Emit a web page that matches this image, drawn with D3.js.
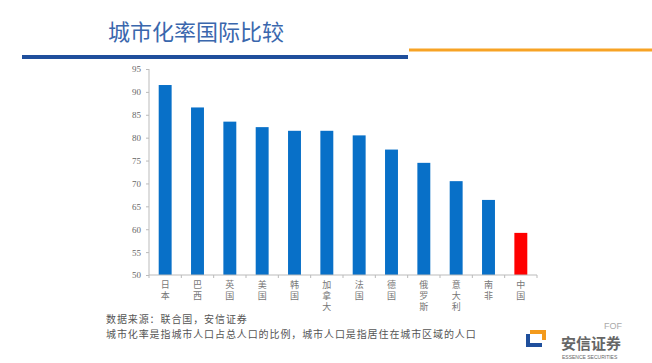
<!DOCTYPE html>
<html lang="zh">
<head>
<meta charset="UTF-8">
<title>城市化率国际比较</title>
<script src="https://d3js.org/d3.v7.min.js"></script>
<style>
  body { margin: 0; background: #fff; }
  svg { display: block; }
  .ytick text { font-family: "Liberation Serif", "DejaVu Serif", serif; font-size: 9px; fill: #666; }
  .xlab { font-family: "Noto Sans CJK SC", sans-serif; font-size: 9px; fill: #777; writing-mode: vertical-rl; text-orientation: upright; letter-spacing: 2px; }
  .note { font-family: "Noto Sans CJK SC", sans-serif; font-size: 10px; letter-spacing: 0.9px; fill: #555; }
</style>
</head>
<body>
<script>
// data
const countries = ["日本", "巴西", "英国", "美国", "韩国", "加拿大", "法国", "德国", "俄罗斯", "意大利", "南非", "中国"];
const rates = [91.5, 86.6, 83.5, 82.3, 81.5, 81.5, 80.5, 77.4, 74.5, 70.5, 66.4, 59.2];
const yTicks = [50, 55, 60, 65, 70, 75, 80, 85, 90, 95];
const title = "城市化率国际比较";
const notes = ["数据来源：联合国，安信证券", "城市化率是指城市人口占总人口的比例，城市人口是指居住在城市区域的人口"];

const W = 652, H = 363;
const svg = d3.select("body").append("svg").attr("width", W).attr("height", H);

// header
svg.append("text").attr("x", 108).attr("y", 40)
  .attr("font-family", "Noto Sans CJK SC, sans-serif").attr("font-size", 22)
  .attr("fill", "#3a67ad").text(title);
svg.append("rect").attr("x", 22).attr("y", 55).attr("width", 386).attr("height", 4).attr("fill", "#1f4f9c");
svg.append("rect").attr("x", 409).attr("y", 48.5).attr("width", 243).attr("height", 3).attr("fill", "#f7a325");

// chart
const x = d3.scaleBand().domain(countries).range([149, 537]).paddingInner(0.6).paddingOuter(0.3);
const y = d3.scaleLinear().domain([50, 95]).range([275, 69]);

const yAxis = svg.append("g").attr("class", "ytick").attr("transform", "translate(149,0)")
  .call(d3.axisLeft(y).tickValues(yTicks).tickSize(3).tickPadding(5));
yAxis.selectAll("path, line").attr("stroke", "#bbb");
yAxis.select(".domain").attr("d", `M0,${y(95)}V${y(50)}`);

svg.selectAll(".bar").data(rates).enter().append("rect")
  .attr("class", "bar")
  .attr("x", (d, i) => x(countries[i]))
  .attr("width", x.bandwidth())
  .attr("y", d => y(d))
  .attr("height", d => y(50) - y(d))
  .attr("fill", (d, i) => countries[i] === "中国" ? "#ff0000" : "#0870c8");

// x axis line and ticks between categories
const [x0, x1] = x.range();
const cat = (x1 - x0) / countries.length;
svg.append("line").attr("x1", x0).attr("x2", x1).attr("y1", y(50)).attr("y2", y(50)).attr("stroke", "#bbb");
svg.selectAll(".xt").data(d3.range(countries.length + 1)).enter().append("line")
  .attr("x1", i => x0 + i * cat)
  .attr("x2", i => x0 + i * cat)
  .attr("y1", y(50)).attr("y2", y(50) + 3).attr("stroke", "#bbb");

// vertical category labels
svg.selectAll(".xlab").data(countries).enter().append("text")
  .attr("class", "xlab")
  .attr("x", d => x(d) + x.bandwidth() / 2)
  .attr("y", 280)
  .text(d => d);

// notes
svg.selectAll(".note").data(notes).enter().append("text")
  .attr("class", "note").attr("x", 106).attr("y", (d, k) => 323 + k * 15).text(d => d);

// logo
const logo = svg.append("g");
logo.append("path").attr("d", "M530,330 h16 v10 h-4 v-6 h-12 z").attr("fill", "#f39a1c");
logo.append("path").attr("d", "M526,334 h4 v9 h12 v4 h-16 z").attr("fill", "#1f4f9c");
logo.append("text").attr("x", 561).attr("y", 349).attr("font-family", "Noto Sans CJK SC, sans-serif")
  .attr("font-size", 15).attr("font-weight", "bold").attr("fill", "#666").text("安信证券");
logo.append("text").attr("x", 562).attr("y", 359).attr("font-family", "Liberation Sans, sans-serif")
  .attr("font-size", 5).attr("fill", "#666").text("ESSENCE SECURITIES");
logo.append("text").attr("x", 604).attr("y", 329).attr("font-family", "Liberation Sans, sans-serif")
  .attr("font-size", 9).attr("fill", "#aaa").text("FOF");
</script>
</body>
</html>
